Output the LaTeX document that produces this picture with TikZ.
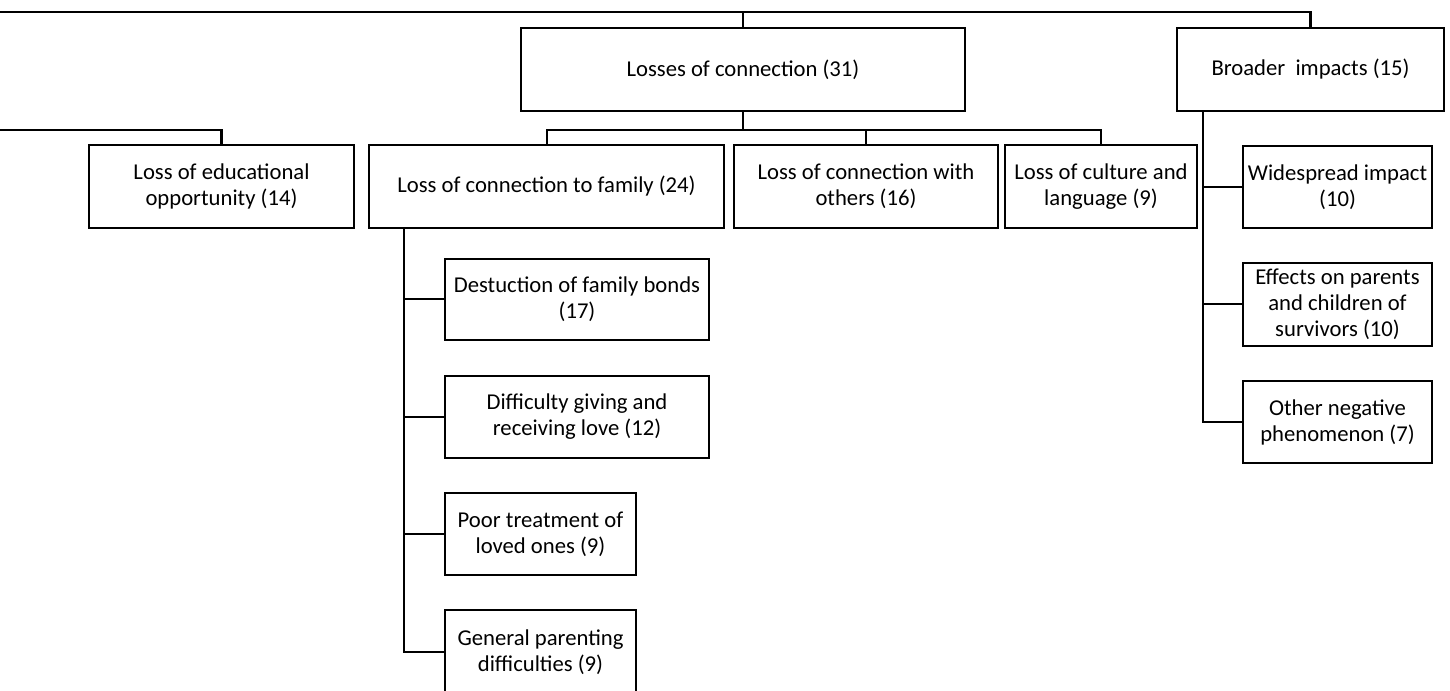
\documentclass[tikz,border=0pt]{standalone}
\usepackage{fontspec}
\setmainfont{Carlito}
\usetikzlibrary{calc}
\tikzset{
  x=0.75pt, y=-0.75pt,
  bx/.style 2 args={draw=black, line width=1.5pt, fill=white, inner sep=0pt, align=center,
    minimum width=#1*0.75pt, minimum height=#2*0.75pt,
    font=\fontsize{17}{19.5}\selectfont},
  conn/.style={draw=black, line width=1.5pt},
  topconn/.style={draw=black, line width=2pt}
}
\begin{document}
\begin{tikzpicture}
\useasboundingbox (0,0) rectangle (1450,691);
% level 1
\node[bx={444}{83}] (los) at (743,69.5) {Losses of connection (31)};
\node[bx={267}{83}] (bro) at (1310.5,69.5) {Broader\ \ impacts (15)};
% level 2
\node[bx={265}{83}] (edu) at (221.5,186.5) {Loss of educational\\opportunity (14)};
\node[bx={355}{83}] (fam) at (546.5,186.5) {Loss of connection to family (24)};
\node[bx={264}{83}] (oth) at (866,186.5) {Loss of connection with\\others (16)};
\node[bx={192}{83}] (cul) at (1101,186.5) {Loss of culture and\\language (9)};
% broader children
\node[bx={189}{82}] (wid) at (1337.5,187) {Widespread impact\\(10)};
\node[bx={189}{83}] (eff) at (1337.5,304.5) {Effects on parents\\and children of\\survivors (10)};
\node[bx={189}{82}] (neg) at (1337.5,422) {Other negative\\phenomenon (7)};
% family children
\node[bx={264}{81}] (des) at (577,299.5) {Destuction of family bonds\\(17)};
\node[bx={264}{82}] (dif) at (577,417) {Difficulty giving and\\receiving love (12)};
\node[bx={191}{82}] (poo) at (540.5,534) {Poor treatment of\\loved ones (9)};
\node[bx={191}{84}] (gen) at (540.5,652) {General parenting\\difficulties (9)};
% coordinates
\coordinate (topL) at (0,12);
\coordinate (midL) at (0,130);
\coordinate (bt) at (1203,111);
\coordinate (ft) at (404,228);
% top connector
\draw[topconn] (topL) -| (bro.north);
\draw[conn] (los.north) -- (los.north |- topL);
% level-2 connectors
\draw[topconn] (midL) -| (edu.north);
\draw[conn] (los.south) -- (los.south |- midL);
\draw[conn] (fam.north) -- (fam.north |- midL) -| (cul.north);
\draw[conn] (oth.north) -- (oth.north |- midL);
% broader trunk
\draw[conn] (bt) |- (neg.west);
\draw[conn] (wid.west) -- (wid.west -| bt);
\draw[conn] (eff.west) -- (eff.west -| bt);
% family trunk
\draw[conn] (ft) |- (gen.west);
\draw[conn] (des.west) -- (des.west -| ft);
\draw[conn] (dif.west) -- (dif.west -| ft);
\draw[conn] (poo.west) -- (poo.west -| ft);
\end{tikzpicture}
\end{document}
